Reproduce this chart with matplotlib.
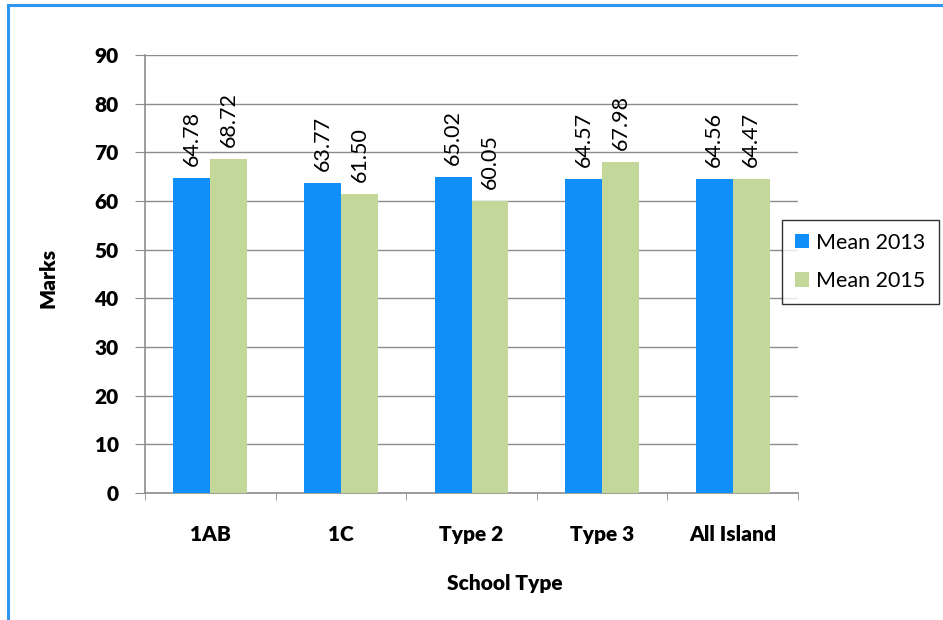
import numpy as np
import matplotlib.pyplot as plt
from matplotlib.patches import Rectangle

plt.rcParams['font.family'] = ['Lato', 'DejaVu Sans']

categories = ["1AB", "1C", "Type 2", "Type 3", "All Island"]
mean_2013 = [64.78, 63.77, 65.02, 64.57, 64.56]
mean_2015 = [68.72, 61.50, 60.05, 67.98, 64.47]

blue = "#118ff8"
green = "#c4d79b"
grid_grey = "#8c8c8c"

fig = plt.figure(figsize=(9.43, 6.2), dpi=100)
ax = fig.add_axes([145 / 943, 127 / 620, 653 / 943, 438 / 620])

x = np.arange(len(categories))
w = 0.283
b1 = ax.bar(x - w / 2, mean_2013, w, color=blue, label="Mean 2013", zorder=3)
b2 = ax.bar(x + w / 2, mean_2015, w, color=green, label="Mean 2015", zorder=3)

for bars, vals in ((b1, mean_2013), (b2, mean_2015)):
    for rect, v in zip(bars, vals):
        ax.annotate(f"{v:.2f}", (rect.get_x() + rect.get_width() / 2, v),
                    xytext=(0, 8.5), textcoords="offset points",
                    rotation=90, ha="center", va="bottom", fontsize=15.5)

ax.set_xlim(-0.5, len(categories) - 0.5)
ax.set_ylim(0, 90)
ax.set_yticks(range(0, 91, 10))
ax.set_yticklabels([str(v) for v in range(0, 91, 10)], fontweight="heavy", fontsize=15)
ax.set_xticks(x)
ax.set_xticklabels(categories, fontweight="heavy", fontsize=15)
ax.set_xticks(np.arange(-0.5, len(categories)), minor=True)
ax.tick_params(axis="x", which="major", length=0, pad=23)
ax.tick_params(axis="x", which="minor", length=5, color=grid_grey, direction="out")
ax.tick_params(axis="y", length=7, color=grid_grey, pad=12)

ax.grid(axis="y", color=grid_grey, linewidth=1, zorder=0)
for side in ("top", "right"):
    ax.spines[side].set_visible(False)
for side in ("left", "bottom"):
    ax.spines[side].set_color(grid_grey)
    ax.spines[side].set_linewidth(1.2)

ax.set_ylabel("Marks", fontweight="heavy", fontsize=15)
ax.set_xlabel("School Type", fontweight="heavy", fontsize=15)
ax.yaxis.set_label_coords((58 - 145) / 653, 0.49)
ax.xaxis.set_label_coords((505 - 145) / 653, -(574 - 493) / 438)

leg = ax.legend(loc="center left", fontsize=15.5, frameon=True,
                fancybox=False, edgecolor="black", handlelength=0.65,
                handleheight=0.65, handletextpad=0.35, borderpad=0.6,
                labelspacing=0.85, borderaxespad=0)
leg.set_bbox_to_anchor((782 / 943, 1 - 262 / 620), transform=fig.transFigure)
leg.get_frame().set_linewidth(1.0)

# outer frame of the chart area
fig.patches.append(Rectangle((8 / 943, -0.1), 1.2, 1.1 - 5 / 620,
                             transform=fig.transFigure, fill=False,
                             edgecolor="#2e95f0", linewidth=2.2))

fig.savefig("out.png", dpi=100)
